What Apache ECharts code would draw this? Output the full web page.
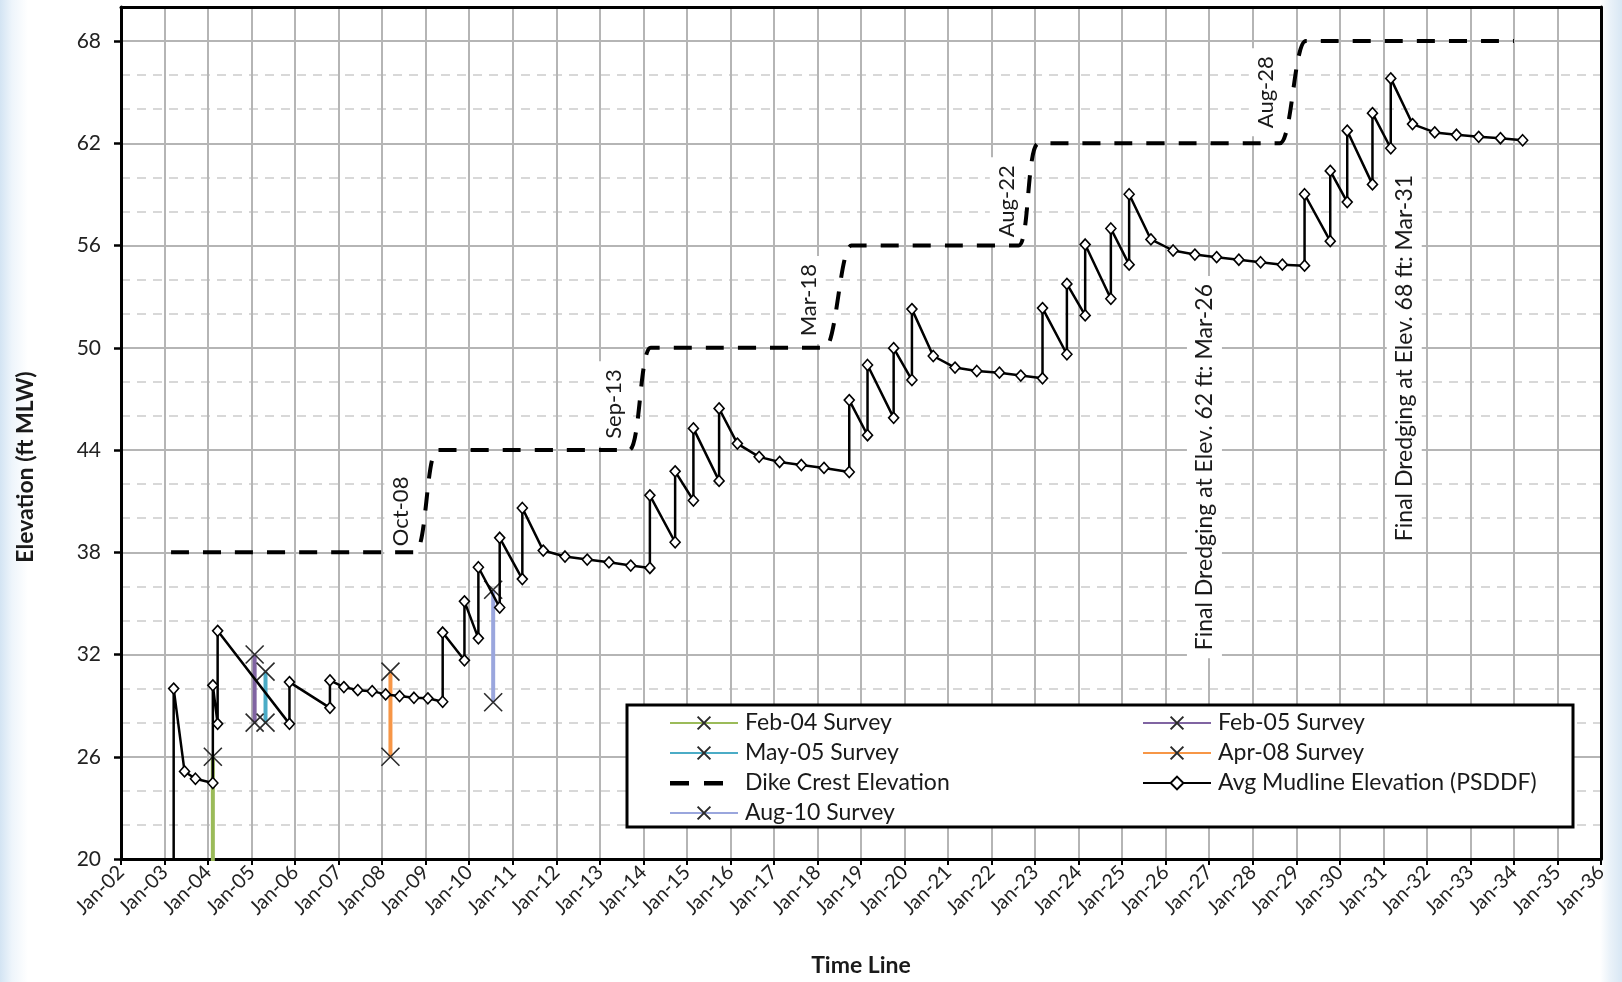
<!DOCTYPE html>
<html><head><meta charset="utf-8">
<script src="https://cdn.jsdelivr.net/npm/echarts@6/dist/echarts.min.js"></script>
<style>
html,body{margin:0;padding:0;width:1622px;height:982px;overflow:hidden;
background:linear-gradient(to right,#d3e4f3 0px,#eef5fb 12px,#ffffff 28px,#ffffff 1600px,#eaf2f9 1610px,#d8e7f4 1622px);}
#chart{width:1622px;height:982px;}
</style></head><body><div id="chart"></div>
<script>
// ---------- tick labels ----------
const xTickLabels = ['Jan-02','Jan-03','Jan-04','Jan-05','Jan-06','Jan-07','Jan-08','Jan-09','Jan-10','Jan-11','Jan-12','Jan-13','Jan-14','Jan-15','Jan-16','Jan-17','Jan-18','Jan-19','Jan-20','Jan-21','Jan-22','Jan-23','Jan-24','Jan-25','Jan-26','Jan-27','Jan-28','Jan-29','Jan-30','Jan-31','Jan-32','Jan-33','Jan-34','Jan-35','Jan-36'];
const yTickValues = [20,26,32,38,44,50,56,62,68];

// ---------- Avg Mudline Elevation (PSDDF) ----------
const mudlineYears = [2003.21,2003.21,2003.46,2003.71,2004.11,2004.11,2004.22,2004.22,2005.87,2005.87,2006.80,2006.80,2007.12,2007.44,2007.77,2008.08,2008.40,2008.73,2009.05,2009.39,2009.39,2009.89,2009.89,2010.21,2010.21,2010.70,2010.70,2011.22,2011.22,2011.70,2012.20,2012.71,2013.21,2013.71,2014.15,2014.15,2014.73,2014.73,2015.15,2015.15,2015.74,2015.74,2016.16,2016.66,2017.13,2017.63,2018.15,2018.73,2018.73,2019.15,2019.15,2019.75,2019.75,2020.17,2020.17,2020.66,2021.16,2021.66,2022.18,2022.67,2023.17,2023.17,2023.73,2023.73,2024.15,2024.15,2024.74,2024.74,2025.16,2025.16,2025.66,2026.17,2026.67,2027.17,2027.68,2028.18,2028.68,2029.19,2029.19,2029.78,2029.78,2030.17,2030.17,2030.75,2030.75,2031.17,2031.17,2031.67,2032.18,2032.68,2033.19,2033.69,2034.20];
const mudlineElev  = [15.0,30.0,25.14,24.71,24.46,30.19,27.93,33.39,27.93,30.38,28.87,30.48,30.09,29.91,29.85,29.66,29.56,29.46,29.43,29.23,33.29,31.66,35.12,32.95,37.12,34.76,38.85,36.43,40.60,38.10,37.75,37.57,37.41,37.22,37.08,41.34,38.59,42.75,41.04,45.27,42.19,46.44,44.38,43.60,43.30,43.12,42.95,42.71,46.93,44.87,48.99,45.89,49.98,48.11,52.27,49.52,48.84,48.64,48.54,48.37,48.21,52.33,49.62,53.75,51.90,56.06,52.88,57.00,54.88,59.01,56.36,55.71,55.47,55.32,55.17,55.02,54.88,54.82,59.01,56.26,60.38,58.55,62.74,59.59,63.77,61.71,65.81,63.13,62.64,62.50,62.38,62.30,62.18];

// ---------- Dike Crest Elevation ----------
const dikeYears = [2003.15,2008.75,2009.27,2013.67,2014.17,2018.17,2018.78,2022.62,2023.08,2028.62,2029.22,2034.00];
const dikeElev  = [38,38,44,44,50,50,56,56,62,62,68,68];

// ---------- Surveys ----------
const feb04Years = [2004.11,2004.11]; const feb04Elev = [26.0,15.0];
const feb05Years = [2005.07,2005.07]; const feb05Elev = [32.0,28.0];
const may05Years = [2005.32,2005.32]; const may05Elev = [31.0,28.0];
const apr08Years = [2008.19,2008.19]; const apr08Elev = [31.0,26.0];
const aug10Years = [2010.55,2010.55]; const aug10Elev = [35.8,29.2];

// ---------- annotation texts ----------
const raiseLabels = ['Oct-08','Sep-13','Mar-18','Aug-22','Aug-28'];
const finalLabels = ['Final Dredging at Elev. 62 ft: Mar-26','Final Dredging at Elev. 68 ft: Mar-31'];

const pairs = (xs, ys) => xs.map((x, i) => [x, ys[i]]);
const FONT = 'Lato, "Open Sans", sans-serif';
const XSYM = 'path://M0,0L10,10M10,0L0,10';
const DASH_ICON = 'path://M0,0h0.01v0.01h-0.01z M67.99,15.99h0.01v0.01h-0.01z M0,6h19v4.5h-19z M34,6h19v4.5h-19z';

function survey(name, color, xs, ys) {
  return {
    name, type: 'line', data: pairs(xs, ys),
    symbol: XSYM, symbolSize: 18, showAllSymbol: true,
    lineStyle: { color, width: 4 },
    itemStyle: { color: '#2a2a2a', borderColor: '#2a2a2a', borderWidth: 1.6 },
    z: 3, clip: true
  };
}

const chart = echarts.init(document.getElementById('chart'), null, { renderer: 'canvas' });

const frameAxis = { min: 2002, max: 2036, show: true, z: 5,
  axisLine: { show: true, onZero: false, lineStyle: { color: '#000', width: 3 } },
  axisTick: { show: false }, axisLabel: { show: false }, splitLine: { show: false } };

const legendText = { fontSize: 23, lineHeight: 30, color: '#1a1a1a', fontFamily: FONT, padding: [0, 0, 0, 2] };

const option = {
  animation: false,
  backgroundColor: 'transparent',
  textStyle: { fontFamily: FONT },
  grid: { left: 121, right: 21, top: 7, bottom: 123, show: true, backgroundColor: '#ffffff', borderWidth: 0,
    containLabel: false, outerBoundsMode: 'none' },
  xAxis: [{
    type: 'value', min: 2002, max: 2036, interval: 1, z: 1,
    name: 'Time Line', nameLocation: 'middle', nameGap: 95,
    nameTextStyle: { fontFamily: FONT, fontWeight: 'bold', fontSize: 23, color: '#1a1a1a' },
    axisLine: { show: true, onZero: false, lineStyle: { color: '#000', width: 3 } },
    axisTick: { show: true, inside: false, length: 6, lineStyle: { color: '#000', width: 2 } },
    axisLabel: { rotate: 45, margin: 10, fontSize: 20, color: '#222', fontFamily: FONT,
      formatter: v => xTickLabels[Math.round(v - 2002)] || '' },
    splitLine: { show: true, lineStyle: { color: '#b5b5b5', width: 2 } }
  }, Object.assign({ type: 'value', position: 'top' }, frameAxis)],
  yAxis: [{
    type: 'value', min: 20, max: 70, interval: 6, z: 1,
    axisLine: { show: true, onZero: false, lineStyle: { color: '#000', width: 3 } },
    axisTick: { show: true, length: 7, lineStyle: { color: '#000', width: 2.5 }, customValues: yTickValues },
    axisLabel: { margin: 20, fontSize: 21, color: '#222', fontFamily: FONT, customValues: yTickValues },
    splitLine: { show: true, lineStyle: { color: '#b5b5b5', width: 2 } }
  }, {
    type: 'value', min: 20, max: 70, interval: 2, position: 'left', z: 0,
    axisLine: { show: false }, axisTick: { show: false }, axisLabel: { show: false },
    splitLine: { show: true, lineStyle: { color: '#cbcbcb', width: 1.5, type: [9, 7] } }
  }, Object.assign({ type: 'value', position: 'right' }, frameAxis, { min: 20, max: 70 })],
  legend: [{
    left: 669, top: 708, orient: 'vertical', padding: 0, itemGap: 0,
    itemWidth: 68, itemHeight: 16, z: 6, textStyle: legendText,
    data: ['Feb-04 Survey', 'May-05 Survey', { name: 'Dike Crest Elevation', icon: DASH_ICON }, 'Aug-10 Survey']
  }, {
    left: 1142, top: 708, orient: 'vertical', padding: 0, itemGap: 0,
    itemWidth: 68, itemHeight: 16, z: 6, textStyle: legendText,
    data: ['Feb-05 Survey', 'Apr-08 Survey', 'Avg Mudline Elevation (PSDDF)']
  }],
  series: [
    survey('Feb-04 Survey', '#9bbb59', feb04Years, feb04Elev),
    survey('Feb-05 Survey', '#8064a2', feb05Years, feb05Elev),
    survey('May-05 Survey', '#4bacc6', may05Years, may05Elev),
    survey('Apr-08 Survey', '#f79646', apr08Years, apr08Elev),
    {
      name: 'Dike Crest Elevation', type: 'line', data: pairs(dikeYears, dikeElev),
      symbol: 'none', smooth: 0.15, z: 2,
      lineStyle: { color: '#000', width: 4, type: [18, 14] },
      itemStyle: { color: '#000' }
    },
    {
      name: 'Avg Mudline Elevation (PSDDF)', type: 'line', data: pairs(mudlineYears, mudlineElev),
      symbol: 'diamond', symbolSize: [10, 11], showAllSymbol: true, z: 4, clip: true,
      lineStyle: { color: '#000', width: 2.5 },
      itemStyle: { color: '#ffffff', borderColor: '#000', borderWidth: 1.6 }
    },
    survey('Aug-10 Survey', '#9aa6dd', aug10Years, aug10Elev)
  ]
};
chart.setOption(option);

// annotations placed in data space (anchor = centre of rotated text)
const annotationAnchors = [
  { text: raiseLabels[0], at: [2008.44, 40.4], size: 22 },
  { text: raiseLabels[1], at: [2013.32, 46.7], size: 22 },
  { text: raiseLabels[2], at: [2017.80, 52.8], size: 22 },
  { text: raiseLabels[3], at: [2022.35, 58.6], size: 22 },
  { text: raiseLabels[4], at: [2028.30, 65.0], size: 22 },
  { text: finalLabels[0], at: [2026.89, 43.0], size: 23 },
  { text: finalLabels[1], at: [2031.48, 49.4], size: 23 }
];
const boxLeft = 627, boxTop = 705, boxW = 946, boxH = 122;
const graphics = annotationAnchors.map(a => {
  const p = chart.convertToPixel({ xAxisIndex: 0, yAxisIndex: 0 }, a.at);
  return {
    type: 'text', x: p[0], y: p[1], rotation: Math.PI / 2, z: 1,
    style: { text: a.text, font: a.size + 'px ' + FONT, fill: '#1a1a1a', align: 'center', verticalAlign: 'middle',
      backgroundColor: '#ffffff', padding: [6, 8] }
  };
});
graphics.push({
  type: 'rect', z: 5, shape: { x: boxLeft, y: boxTop, width: boxW, height: boxH },
  style: { fill: '#ffffff', stroke: '#000', lineWidth: 3 }
});
graphics.push({
  type: 'text', x: 26, y: 467, rotation: Math.PI / 2, z: 5,
  style: { text: 'Elevation (ft MLW)', font: 'bold 23px ' + FONT, fill: '#1a1a1a', align: 'center', verticalAlign: 'middle' }
});
chart.setOption({ graphic: graphics });
</script>
</body></html>
